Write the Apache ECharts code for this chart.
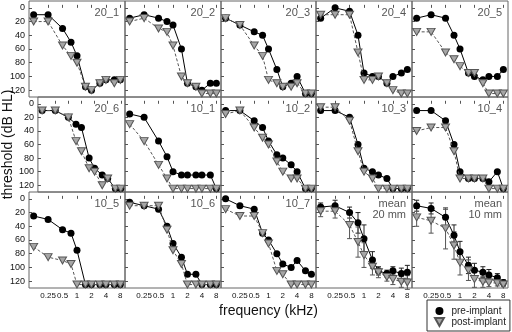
<!DOCTYPE html>
<html><head><meta charset="utf-8">
<script src="https://cdn.jsdelivr.net/npm/echarts@6/dist/echarts.min.js"></script>
<style>html,body{margin:0;padding:0;background:#fff}#c{width:512px;height:332px}</style>
</head><body><div id="c"></div>
<script>
// ---------- data ----------
const freqs = [0.125, 0.25, 0.5, 0.75, 1, 1.5, 2, 3, 4, 6, 8];
const xTicks = [0.25, 0.5, 1, 2, 4, 8];
const yTicks = [0, 20, 40, 60, 80, 100, 120];
const panelNames = ['20_1','20_2','20_3','20_4','20_5','20_6','10_1','10_2','10_3','10_4','10_5','10_6','10_7','mean\n20 mm','mean\n10 mm'];

const pre_20_1 = [10,10,30,50,70,115,120,110,105,105,105];
const post_20_1 = [20,20,55,70,80,115,120,110,105,110,105];
const pre_20_2 = [15,10,15,20,25,60,110,115,120,110,110];
const post_20_2 = [20,15,30,35,55,100,110,115,125,125,125];
const pre_20_3 = [15,25,35,40,60,90,115,110,100,125,125];
const post_20_3 = [15,25,55,70,105,110,115,115,110,125,125];
const pre_20_4 = [15,0,5,40,95,100,100,110,100,95,90];
const post_20_4 = [10,10,10,65,105,105,100,110,120,125,125];
const pre_20_5 = [15,10,15,40,60,95,100,105,100,100,90];
const post_20_5 = [35,35,65,75,85,95,95,110,125,125,125];
const pre_20_6 = [10,10,20,30,35,80,95,105,110,125,125];
const post_20_6 = [10,10,20,55,70,95,100,120,110,125,125];
const pre_10_1 = [15,20,55,78,100,105,105,105,105,105,125];
const post_10_1 = [30,55,90,110,125,125,125,125,125,125,125];
const pre_10_2 = [10,10,25,35,55,75,80,90,100,125,125];
const post_10_2 = [15,10,35,50,60,85,100,110,110,125,125];
const pre_10_3 = [10,10,20,60,95,100,105,110,125,125,125];
const post_10_3 = [5,5,25,70,100,110,125,125,125,125,125];
const pre_10_4 = [10,10,25,60,100,110,110,110,115,100,125];
const post_10_4 = [40,35,35,70,110,110,110,110,125,125,125];
const pre_10_5 = [25,30,45,50,75,125,125,125,125,125,125];
const post_10_5 = [70,85,90,95,125,125,125,125,125,125,125];
const pre_10_6 = [5,10,15,40,65,85,110,110,125,125,125];
const post_10_6 = [10,10,10,45,75,95,125,125,125,125,125];
const pre_10_7 = [0,10,15,50,60,80,95,100,90,105,110];
const post_10_7 = [15,25,25,50,65,105,110,125,125,125,125];
const pre_mean20 = [12,10,20,35,58,89,105,109,105,109,107];
const post_mean20 = [18,18,38,63,82,99,107,114,117,121,122];
const pre_mean10 = [10,14,27,53,77,97,104,107,111,115,122];
const post_mean10 = [27,32,43,68,93,104,117,121,122,123,125];
// error bar half-widths (dB)
const err_pre_mean20 = [6,8,8,15,20,12,6,5,6,8,10];
const err_post_mean20 = [8,10,20,22,18,12,8,6,8,8,10];
const err_pre_mean10 = [8,8,12,15,15,12,10,8,8,6,4];
const err_post_mean10 = [13,18,30,20,18,15,12,8,6,4,3];

const preAll = [pre_20_1,pre_20_2,pre_20_3,pre_20_4,pre_20_5,pre_20_6,pre_10_1,pre_10_2,pre_10_3,pre_10_4,pre_10_5,pre_10_6,pre_10_7,pre_mean20,pre_mean10];
const postAll = [post_20_1,post_20_2,post_20_3,post_20_4,post_20_5,post_20_6,post_10_1,post_10_2,post_10_3,post_10_4,post_10_5,post_10_6,post_10_7,post_mean20,post_mean10];
const errPreAll = {13: err_pre_mean20, 14: err_pre_mean10};
const errPostAll = {13: err_post_mean20, 14: err_post_mean10};

// ---------- layout ----------
const colL = [29, 125, 221, 316, 412, 508];
const rowT = [1, 97, 192, 288];
const FONT = '"Liberation Sans", Arial, sans-serif';
// an unlabeled leading label slot keeps ECharts' min-label overlap check away from "0.25"
const xLabelValues = [freqs[0]].concat(xTicks);

const grids = [], xAxes = [], yAxes = [], series = [], graphics = [];

function errRenderer(color) {
  return function (params, api) {
    const x = api.value(0), lo = api.value(1), hi = api.value(2);
    const a = api.coord([x, lo]), b = api.coord([x, hi]);
    const w = 2.5;
    const st = {stroke: color, lineWidth: 1};
    return {type: 'group', children: [
      {type: 'line', shape: {x1: a[0], y1: a[1], x2: b[0], y2: b[1]}, style: st},
      {type: 'line', shape: {x1: a[0]-w, y1: a[1], x2: a[0]+w, y2: a[1]}, style: st},
      {type: 'line', shape: {x1: b[0]-w, y1: b[1], x2: b[0]+w, y2: b[1]}, style: st}
    ]};
  };
}

for (let p = 0; p < 15; p++) {
  const r = Math.floor(p / 5), c = p % 5;
  const left = colL[c], top = rowT[r], w = colL[c+1] - colL[c], h = rowT[r+1] - rowT[r];
  grids.push({left, top, width: w, height: h, show: true, borderColor: '#666', borderWidth: 1, backgroundColor: 'transparent'});
  const xa = {
    gridIndex: p, type: 'log', logBase: 2, min: 0.1, max: 10,
    axisLine: {show: false},
    axisTick: {show: true, inside: true, length: 3, lineStyle: {color: '#555'}, customValues: xTicks},
    axisLabel: {show: r === 2, customValues: xLabelValues, fontSize: 8, color: '#111', margin: 4, fontFamily: FONT,
      formatter: v => (xTicks.indexOf(v) >= 0 ? String(v) : '')},
    splitLine: {show: false}
  };
  if (p === 12) {
    xa.name = 'frequency (kHz)'; xa.nameLocation = 'middle'; xa.nameGap = 16;
    xa.nameTextStyle = {fontSize: 14, color: '#111', fontFamily: FONT};
  }
  xAxes.push(xa);
  const ya = {
    gridIndex: p, type: 'value', inverse: true, min: -10, max: 130,
    axisLine: {show: false},
    axisTick: {show: true, inside: true, length: 3, lineStyle: {color: '#555'}, customValues: yTicks},
    axisLabel: {show: c === 0, customValues: yTicks, fontSize: 9, color: '#111', margin: 4, fontFamily: FONT,
      showMinLabel: true, showMaxLabel: true},
    splitLine: {show: false}
  };
  if (p === 5) {
    ya.name = 'threshold (dB HL)'; ya.nameLocation = 'middle'; ya.nameGap = 14;
    ya.nameTextStyle = {fontSize: 14, color: '#111', fontFamily: FONT};
  }
  yAxes.push(ya);

  if (errPreAll[p]) {
    series.push({type: 'custom', xAxisIndex: p, yAxisIndex: p, z: 1, silent: true,
      renderItem: errRenderer('#222'),
      data: freqs.map((f, k) => [f, preAll[p][k] - errPreAll[p][k], preAll[p][k] + errPreAll[p][k]])});
    series.push({type: 'custom', xAxisIndex: p, yAxisIndex: p, z: 1, silent: true,
      renderItem: errRenderer('#555'),
      data: freqs.map((f, k) => [f, postAll[p][k] - errPostAll[p][k], postAll[p][k] + errPostAll[p][k]])});
  }
  series.push({
    name: 'pre-implant', type: 'line', xAxisIndex: p, yAxisIndex: p, z: 3,
    data: freqs.map((f, k) => [f, preAll[p][k]]),
    symbol: 'circle', symbolSize: 7, showAllSymbol: true,
    itemStyle: {color: '#000'},
    lineStyle: {color: '#000', width: 1}
  });
  series.push({
    name: 'post-implant', type: 'line', xAxisIndex: p, yAxisIndex: p, z: 4,
    data: freqs.map((f, k) => [f, postAll[p][k]]),
    symbol: 'triangle', symbolRotate: 180, symbolSize: [8, 7], showAllSymbol: true,
    itemStyle: {color: '#a6a6a6', borderColor: '#555', borderWidth: 1},
    lineStyle: {color: '#555', width: 1, type: [3, 2]}
  });
  graphics.push({type: 'text', x: left + w - 6, y: top + 6, z: 10,
    style: {text: panelNames[p], align: 'right', verticalAlign: 'top', fill: '#555', font: '11px ' + FONT, lineHeight: 11}});
}

const chart = echarts.init(document.getElementById('c'), null, {renderer: 'canvas'});
chart.setOption({
  animation: false,
  textStyle: {fontFamily: FONT},
  grid: grids, xAxis: xAxes, yAxis: yAxes, series,
  graphic: graphics,
  legend: {
    left: 427, top: 300, height: 40, orient: 'vertical',
    padding: [6, 4, 4, 7], itemGap: 1, itemWidth: 14, itemHeight: 8,
    borderColor: '#333', borderWidth: 1, borderRadius: 0,
    textStyle: {fontSize: 10, lineHeight: 10, color: '#222', fontFamily: FONT},
    data: [{name: 'pre-implant', icon: 'circle'}, {name: 'post-implant', icon: 'path://M0,0L10,0L5,9Z'}]
  }
});
</script></body></html>
